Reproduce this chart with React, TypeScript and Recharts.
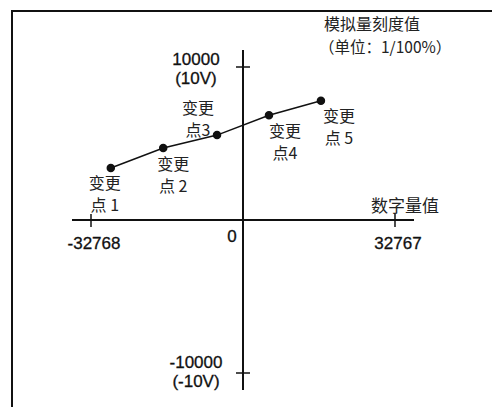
import { ComposedChart, Line, XAxis, YAxis, ReferenceLine, ReferenceDot, LabelList } from "recharts";

// change points on the digital -> analog scaling line
const digitalValues = [-28500, -17200, -5600, 5600, 16800];
const analogValues = [3400, 4700, 5550, 6850, 7800];
const pointLines = [
  ["变更", "点 1"],
  ["变更", "点 2"],
  ["变更", "点3"],
  ["变更", "点4"],
  ["变更", "点 5"],
];

// axis marks
const xTicks = [-32768, 32767];
const xTickLabels = ["-32768", "32767"];
const yTicks = [10000, -10000];
const yTickLabels = [
  ["10000", "(10V)"],
  ["-10000", "(-10V)"],
];

const data = digitalValues.map((x, i) => ({ x, y: analogValues[i] }));

// where each point's label sits relative to the dot (px)
const labelOffsets = [
  [-6, 21],
  [10, 22],
  [-19, -21],
  [16, 22],
  [18, 21],
];

const cjk = "'Noto Sans CJK SC', sans-serif";
const num = "'Liberation Sans', Arial, sans-serif";

const PointLabel = (props: any) => {
  const { x, y, index } = props;
  const [dx, dy] = labelOffsets[index];
  const lines = pointLines[index];
  return (
    <text x={x + dx} y={y + dy} textAnchor="middle" fontFamily={cjk} fontSize={16} fill="#222">
      {lines.map((t, i) => (
        <tspan key={i} x={x + dx} dy={i === 0 ? 0 : 22}>
          {t}
        </tspan>
      ))}
    </text>
  );
};

const XTick = (label: string) => (p: any) => (
  <g>
    <line x1={p.cx} y1={p.cy - 6} x2={p.cx} y2={p.cy + 7} stroke="#111" strokeWidth={1.5} />
    <text x={p.cx + 3} y={p.cy + 29} textAnchor="middle" fontFamily={num} fontSize={17} fill="#111" stroke="#111" strokeWidth={0.3}>
      {label}
    </text>
  </g>
);

const YTick = (lines: string[], up: boolean) => (p: any) => (
  <g>
    <line x1={p.cx - 7} y1={p.cy} x2={p.cx + 7} y2={p.cy} stroke="#111" strokeWidth={1.5} />
    <text x={p.cx - 47} y={p.cy + (up ? -2 : -5)} textAnchor="middle" fontFamily={num} fontSize={17} fill="#111" stroke="#111" strokeWidth={0.3}>
      <tspan x={p.cx - 47}>{lines[0]}</tspan>
      <tspan x={p.cx - 47} dy={19}>
        {lines[1]}
      </tspan>
    </text>
  </g>
);

const Origin = (p: any) => (
  <text x={p.cx - 11} y={p.cy + 22} textAnchor="middle" fontFamily={num} fontSize={17} fill="#111" stroke="#111" strokeWidth={0.3}>
    0
  </text>
);

export default function App() {
  return (
    <div style={{ position: "absolute", left: 0, top: 0, width: 492, height: 407, background: "#fff" }}>
      <div
        style={{
          position: "absolute",
          left: 11,
          top: 10,
          width: 481,
          height: 397,
          borderTop: "2px solid #111",
          borderLeft: "2px solid #111",
        }}
      />
      <div style={{ position: "absolute", left: 0, top: 0 }}>
        <ComposedChart width={492} height={407} data={data} margin={{ top: 50, right: 78, bottom: 17, left: 72 }}>
          <XAxis type="number" dataKey="x" domain={[-36864, 36864]} hide />
          <YAxis type="number" domain={[-11111, 11111]} hide />
          <ReferenceLine y={0} stroke="#111" strokeWidth={2} />
          <ReferenceLine x={0} stroke="#111" strokeWidth={2} />
          {xTicks.map((t, i) => (
            <ReferenceDot key={`xt-${i}`} x={t} y={0} ifOverflow="visible" shape={XTick(xTickLabels[i])} />
          ))}
          {yTicks.map((t, i) => (
            <ReferenceDot key={`yt-${i}`} x={0} y={t} ifOverflow="visible" shape={YTick(yTickLabels[i], t > 0)} />
          ))}
          <ReferenceDot x={0} y={0} ifOverflow="visible" shape={Origin} />
          <Line
            dataKey="y"
            stroke="#111"
            strokeWidth={1.5}
            dot={{ r: 3.5, fill: "#111", stroke: "#111" }}
            isAnimationActive={false}
          >
            <LabelList dataKey="y" content={PointLabel} />
          </Line>
          <text x={324} y={30} fontFamily={cjk} fontSize={16} fill="#222">
            模拟量刻度值
          </text>
          <text x={319} y={53} fontFamily={cjk} fontSize={15.5} fill="#222">
            （单位：1/100%）
          </text>
          <text x={371} y={212} fontFamily={cjk} fontSize={17} fill="#222">
            数字量值
          </text>
        </ComposedChart>
      </div>
    </div>
  );
}
